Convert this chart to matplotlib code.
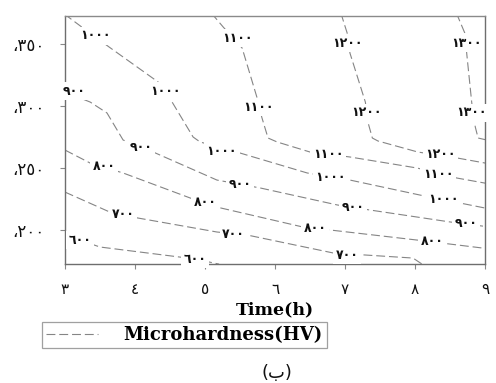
"""Microhardness iso-lines over time and temperature (Arabic-Indic labels)."""
import matplotlib

matplotlib.use("Agg")
import matplotlib.pyplot as plt

# ---- Data: iso-hardness lines (time h, y value) ----
levels = [600, 700, 800, 900, 1000, 1100, 1200, 1300]

time_600 = [3.0, 3.21, 3.5, 4.64, 4.86, 5.2]
temp_600 = [194.4, 191.9, 186.3, 178.2, 176.6, 172.5]

time_700 = [3.0, 3.64, 4.04, 5.17, 5.6, 6.83, 7.97, 8.1]
temp_700 = [230.6, 214.5, 209.7, 198.4, 196.0, 181.5, 177.4, 172.5]

time_800 = [3.0, 3.36, 3.83, 4.79, 5.17, 6.4, 6.79, 8.03, 8.96, 9.1]
temp_800 = [264.5, 254.0, 246.0, 225.8, 218.5, 202.4, 200.0, 191.9, 185.5, 184.5]

time_900 = [2.93, 3.36, 3.6, 3.83, 4.26, 5.17, 5.79, 6.89, 7.36, 8.5, 9.1]
temp_900 = [312.9, 303.2, 294.4, 272.6, 262.9, 240.3, 233.9, 220.2, 216.1, 206.5, 202.2]

time_1000 = [2.99, 3.24, 3.63, 4.33, 4.53, 4.83, 4.93, 5.5, 6.46, 7.07, 8.07, 8.64, 9.1]
temp_1000 = [374.2, 363.7, 347.6, 319.4, 303.2, 275.0, 271.0, 262.1, 246.0, 240.3, 228.2, 221.8, 216.6]

time_1100 = [5.09, 5.26, 5.53, 5.74, 5.81, 5.9, 6.03, 6.5, 7.07, 8.03, 8.6, 9.1]
temp_1100 = [375.0, 363.7, 346.8, 307.3, 291.1, 274.2, 271.0, 262.9, 258.9, 250.0, 241.9, 236.8]

time_1200 = [6.94, 7.03, 7.07, 7.29, 7.33, 7.39, 7.47, 8.04, 8.6, 9.1]
temp_1200 = [375.0, 358.9, 342.7, 303.2, 286.3, 274.2, 271.8, 262.9, 258.1, 253.0]

time_1300 = [8.59, 8.71, 8.74, 8.81, 8.86, 8.9, 9.1]
temp_1300 = [375.0, 358.9, 341.1, 302.4, 283.1, 274.2, 271.6]

# inline label positions on each line
lab_time_600 = [3.21, 4.86]
lab_temp_600 = [191.9, 176.6]
lab_time_700 = [3.83, 5.41, 7.03]
lab_temp_700 = [212.9, 196.0, 179.8]
lab_time_800 = [3.56, 5.0, 6.57, 8.24]
lab_temp_800 = [251.6, 222.6, 201.6, 191.1]
lab_time_900 = [3.13, 4.09, 5.5, 7.11, 8.73]
lab_temp_900 = [312.1, 266.9, 237.1, 218.5, 205.6]
lab_time_1000 = [3.44, 4.43, 5.24, 6.79, 8.4]
lab_temp_1000 = [356.5, 312.1, 263.7, 242.7, 225.0]
lab_time_1100 = [5.46, 5.76, 6.76, 8.33]
lab_temp_1100 = [354.8, 299.2, 261.3, 244.4]
lab_time_1200 = [7.03, 7.3, 8.36]
lab_temp_1200 = [350.8, 294.4, 261.3]
lab_time_1300 = [8.73, 8.8]
lab_temp_1300 = [350.8, 294.4]

x_ticks = [3, 4, 5, 6, 7, 8, 9]
y_ticks = [200, 250, 300, 350]

lines = [
    (time_600, temp_600, lab_time_600, lab_temp_600),
    (time_700, temp_700, lab_time_700, lab_temp_700),
    (time_800, temp_800, lab_time_800, lab_temp_800),
    (time_900, temp_900, lab_time_900, lab_temp_900),
    (time_1000, temp_1000, lab_time_1000, lab_temp_1000),
    (time_1100, temp_1100, lab_time_1100, lab_temp_1100),
    (time_1200, temp_1200, lab_time_1200, lab_temp_1200),
    (time_1300, temp_1300, lab_time_1300, lab_temp_1300),
]

AR = str.maketrans("0123456789", "٠١٢٣٤٥٦٧٨٩")


def ar(v):
    return str(v).translate(AR)


# ---- Style ----
LINE = "#858585"
FRAME = "#6e6e6e"
DASH = (0, (8, 3.5))

fig = plt.figure(figsize=(4.96, 3.83), dpi=100, facecolor="white")
ax = fig.add_axes([0.131, 0.312, 0.847, 0.6475])
ax.set_xlim(3, 9)
ax.set_ylim(173, 373)

for i, (lvl, (t, T, lt, lT)) in enumerate(zip(levels, lines)):
    ax.plot(t, T, color=LINE, lw=0.8, linestyle=DASH,
            label="Microhardness(HV)" if i == 0 else None)
    for x, y in zip(lt, lT):
        ax.text(x, y, ar(lvl), fontsize=9, color="#111111", fontweight="bold",
                ha="center", va="center", clip_on=False, zorder=4,
                family="DejaVu Sans",
                bbox=dict(facecolor="white", edgecolor="none", pad=1.8))

for side in ["left", "bottom", "right", "top"]:
    ax.spines[side].set_color(FRAME)
    ax.spines[side].set_linewidth(1.0)
ax.spines["top"].set_color("#8a8a8a")

ax.set_xticks(x_ticks)
ax.set_xticklabels([ar(v) for v in x_ticks])
ax.set_yticks(y_ticks)
ax.set_yticklabels(["،" + ar(v) for v in y_ticks])
ax.tick_params(axis="both", direction="out", length=3.5, width=0.8,
               color="#888888", labelcolor="#111111", labelsize=11)
ax.tick_params(axis="x", pad=10)
ax.tick_params(axis="y", pad=11, labelsize=12)

ax.set_xlabel("Time(h)", family="DejaVu Serif", fontweight="bold",
              fontsize=12.5, labelpad=3)

leg = fig.legend(loc="upper left", bbox_to_anchor=(42 / 496, 1 - 322 / 383),
                 borderaxespad=0, fancybox=False, frameon=True,
                 prop=dict(family="DejaVu Serif", weight="bold", size=13),
                 handlelength=2.9, handletextpad=1.4, borderpad=0.22)
leg.get_frame().set_edgecolor("#888888")
leg.get_frame().set_linewidth(0.9)

fig.text(277 / 496, 1 - 373 / 383, "(ب)", fontsize=13, ha="center", va="center",
         family="DejaVu Sans", color="#111111")

fig.savefig("out.png", dpi=100, facecolor="white")
